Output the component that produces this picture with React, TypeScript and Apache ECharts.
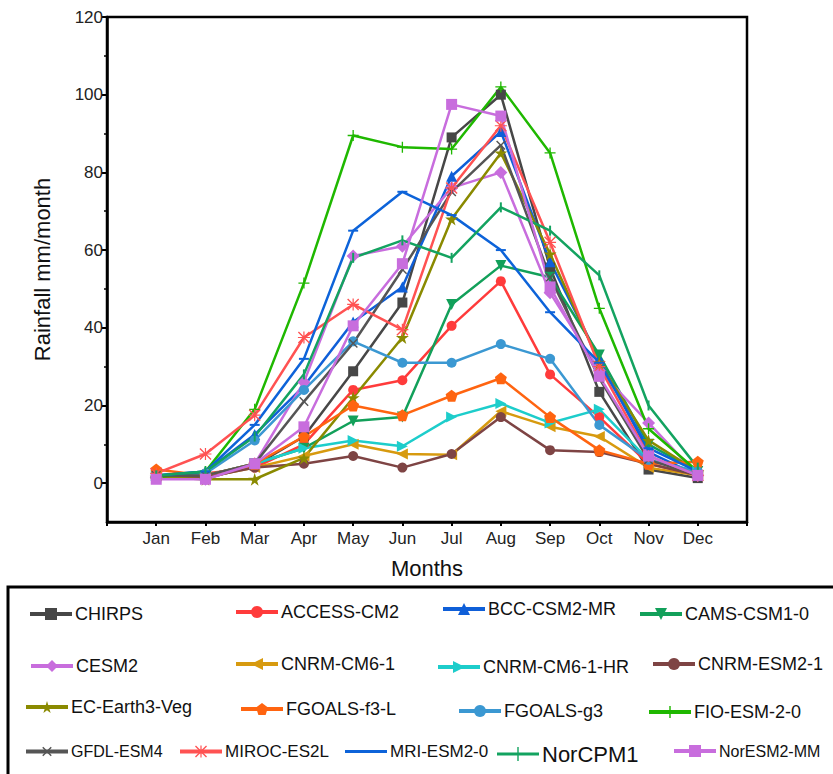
import React, { useEffect, useRef } from 'react';
import * as echarts from 'echarts';

const months = ['Jan', 'Feb', 'Mar', 'Apr', 'May', 'Jun', 'Jul', 'Aug', 'Sep', 'Oct', 'Nov', 'Dec'];
const yTickValues = [0, 20, 40, 60, 80, 100, 120];
const yMinorTickValues = [10, 30, 50, 70, 90, 110];

const chirps = [1.5, 1.2, 4.5, 12, 28.8, 46.5, 89, 100, 55.5, 23.5, 3.5, 1.3];
const accessCm2 = [2, 2.5, 4, 10, 24, 26.5, 40.5, 52, 28, 17, 5, 2];
const bccCsm2Mr = [2, 3, 12.5, 25, 41.5, 50.5, 79, 90.5, 57, 32, 8, 2];
const camsCsm10 = [2, 2, 5, 9, 16, 17, 46, 56, 53, 33, 10, 3];
const cesm2 = [1.5, 1, 5, 26, 58.5, 61, 76, 80, 49, 29, 15.5, 2];
const cnrmCm61 = [2, 1.5, 4, 7, 10, 7.5, 7.3, 18.5, 14.5, 12, 4, 2];
const cnrmCm61Hr = [2, 2, 5, 9, 11, 9.5, 17, 20.5, 15.5, 19, 6, 3];
const cnrmEsm21 = [1.5, 1.5, 4, 5, 7, 4, 7.5, 17, 8.5, 8, 5, 2];
const ecEarth3Veg = [1.5, 1, 1, 6.5, 22, 37.5, 68, 85, 59, 31, 11, 3];
const fgoalsF3L = [3.5, 2, 5, 12, 20, 17.5, 22.5, 27, 17, 8.5, 5, 5.5];
const fgoalsG3 = [2, 2.5, 11, 24, 36.5, 31, 31, 35.8, 32, 15, 6, 3];
const fioEsm20 = [1.5, 3, 19, 51.5, 89.5, 86.5, 86, 102, 85, 45, 14, 3];
const gfdlEsm4 = [2, 2, 5, 21, 36, 55, 75, 87, 53, 27, 6, 2];
const mirocEs2l = [2.5, 7.5, 17.5, 37.5, 46, 39.5, 76, 92, 62, 30, 7, 2];
const mriEsm20 = [2, 3, 15, 32, 65, 75, 69, 60, 44, 31, 9, 3];
const norCpm1 = [2, 3, 12, 28, 58, 62.5, 58, 71, 65, 53.5, 20, 4];
const norEsm2Mm = [1, 1, 5, 14.5, 40.5, 56.5, 97.5, 94.5, 50.5, 27.5, 7, 2];

const seriesNames = [
  'CHIRPS', 'ACCESS-CM2', 'BCC-CSM2-MR', 'CAMS-CSM1-0',
  'CESM2', 'CNRM-CM6-1', 'CNRM-CM6-1-HR', 'CNRM-ESM2-1',
  'EC-Earth3-Veg', 'FGOALS-f3-L', 'FGOALS-g3', 'FIO-ESM-2-0',
  'GFDL-ESM4', 'MIROC-ES2L', 'MRI-ESM2-0', 'NorCPM1', 'NorESM2-MM',
];
const seriesValues = [
  chirps, accessCm2, bccCsm2Mr, camsCsm10,
  cesm2, cnrmCm61, cnrmCm61Hr, cnrmEsm21,
  ecEarth3Veg, fgoalsF3L, fgoalsG3, fioEsm20,
  gfdlEsm4, mirocEs2l, mriEsm20, norCpm1, norEsm2Mm,
];

const STAR = 'path://M50,0 L61,35 L98,35 L68,57 L79,91 L50,70 L21,91 L32,57 L2,35 L39,35 Z';
const PENTA = 'path://M50,0 L98,35 L79,91 L21,91 L2,35 Z';
const PLUS = 'path://M44,0 L56,0 L56,44 L100,44 L100,56 L56,56 L56,100 L44,100 L44,56 L0,56 L0,44 L44,44 Z';
const ASTER = 'path://M45,0 L55,0 L55,100 L45,100 Z M0,45 L100,45 L100,55 L0,55 Z M8,0 L100,92 L92,100 L0,8 Z M92,0 L100,8 L8,100 L0,92 Z';
const LEG_BAR = 'path://M0,40 L300,40 L300,60 L0,60 Z';
const LEG_BAR_V = 'path://M0,40 L300,40 L300,60 L0,60 Z M145,0 L155,0 L155,100 L145,100 Z';

const styles: any[] = [
  { color: '#474747', symbol: 'rect', size: 10 },
  { color: '#FF3B3B', symbol: 'circle', size: 10 },
  { color: '#0F5FD8', symbol: 'triangle', size: 11 },
  { color: '#12A05A', symbol: 'triangle', size: 11, rot: 180 },
  { color: '#C86DDD', symbol: 'diamond', size: 13 },
  { color: '#D79A0F', symbol: 'triangle', size: 11, rot: 90 },
  { color: '#1DCDCB', symbol: 'triangle', size: 11, rot: -90 },
  { color: '#7E4444', symbol: 'circle', size: 10 },
  { color: '#8A8A00', symbol: STAR, size: 13 },
  { color: '#FF6410', symbol: PENTA, size: 12 },
  { color: '#3B98D2', symbol: 'circle', size: 10 },
  { color: '#1FB800', symbol: PLUS, size: 11 },
  { color: '#555555', symbol: PLUS, size: 12, rot: 45 },
  { color: '#FF5252', symbol: ASTER, size: 12 },
  { color: '#0D63D9', symbol: 'rect', size: [10, 2], legendIcon: LEG_BAR },
  { color: '#13A360', symbol: 'rect', size: [2, 10], legendIcon: LEG_BAR_V },
  { color: '#C86DDD', symbol: 'rect', size: 11 },
];

const legendLayout = [
  { x: 28, y: 615, fs: 18 }, { x: 234, y: 613, fs: 18 }, { x: 441, y: 610, fs: 18 }, { x: 638, y: 615, fs: 18 },
  { x: 29, y: 667, fs: 18 }, { x: 234, y: 665, fs: 18 }, { x: 436, y: 668, fs: 18 }, { x: 651, y: 665, fs: 18 },
  { x: 24, y: 708, fs: 18 }, { x: 239, y: 710, fs: 18 }, { x: 457, y: 712, fs: 18 }, { x: 647, y: 713, fs: 18 },
  { x: 24, y: 753, fs: 16 }, { x: 178, y: 753, fs: 17 }, { x: 345, y: 753, fs: 17 }, { x: 497, y: 753, fs: 22 }, { x: 672, y: 753, fs: 16 },
];

const FONT = 'Liberation Sans, Arial, Helvetica, sans-serif';

export default function App() {
  const ref = useRef<HTMLDivElement>(null);
  useEffect(() => {
    const chart = echarts.init(ref.current as HTMLDivElement, null, { renderer: 'svg' });
    const series = seriesNames.map((name, i) => {
      const s = styles[i];
      return {
        type: 'line',
        name,
        data: seriesValues[i].map((v, k) => [k + 1, v]),
        symbol: s.symbol,
        symbolSize: s.size,
        symbolRotate: s.rot || 0,
        showAllSymbol: true,
        itemStyle: { color: s.color },
        lineStyle: { color: s.color, width: 2.5 },
        emphasis: { disabled: true },
      };
    });
    const legend = seriesNames.map((name, i) => {
      const s = styles[i];
      return {
        data: [s.legendIcon ? { name, icon: s.legendIcon } : name],
        left: legendLayout[i].x,
        top: legendLayout[i].y - 10,
        itemWidth: 42,
        itemHeight: s.legendIcon ? 14 : 15,
        padding: 0,
        selectedMode: false,
        lineStyle: { width: 4 },
        textStyle: { fontSize: legendLayout[i].fs, color: '#111', fontFamily: FONT, padding: [0, 0, 0, -2] },
      };
    });
    chart.setOption({
      animation: false,
      backgroundColor: '#fff',
      textStyle: { fontFamily: FONT },
      grid: { left: 107, right: 86, top: 17, bottom: 252, show: true, borderColor: '#000', borderWidth: 2.5 },
      xAxis: {
        type: 'value',
        min: 0,
        max: 13,
        interval: 1,
        name: 'Months',
        nameLocation: 'middle',
        nameGap: 35,
        nameTextStyle: { fontSize: 22, color: '#111', fontFamily: FONT },
        axisLine: { onZero: false, lineStyle: { color: '#000', width: 2.5 } },
        axisTick: { show: true, length: 4, lineStyle: { color: '#000', width: 2 } },
        axisLabel: {
          fontSize: 17,
          color: '#222',
          margin: 8,
          formatter: (v: number) => (v >= 1 && v <= 12 ? months[v - 1] : ''),
        },
        splitLine: { show: false },
      },
      yAxis: [
        {
          type: 'value',
          min: -10,
          max: 120,
          name: 'Rainfall mm/month',
          nameLocation: 'middle',
          nameGap: 54,
          nameRotate: 90,
          nameTextStyle: { fontSize: 22, color: '#111', fontFamily: FONT },
          axisLine: { lineStyle: { color: '#000', width: 2.5 } },
          axisTick: { show: true, length: 5, customValues: yTickValues, lineStyle: { color: '#000', width: 2 } },
          axisLabel: { fontSize: 17, color: '#222', margin: 4, customValues: yTickValues },
          splitLine: { show: false },
        },
        {
          type: 'value',
          min: -10,
          max: 120,
          position: 'left',
          axisLine: { show: false },
          axisTick: { show: true, length: 3, customValues: yMinorTickValues, lineStyle: { color: '#000', width: 1.5 } },
          axisLabel: { show: false },
          splitLine: { show: false },
        },
      ],
      legend,
      graphic: [
        {
          type: 'rect',
          shape: { x: 8, y: 587, width: 840, height: 200 },
          style: { fill: 'none', stroke: '#000', lineWidth: 3 },
          silent: true,
        },
      ],
      series,
    });
    return () => chart.dispose();
  }, []);
  return <div ref={ref} style={{ position: 'fixed', left: 0, top: 0, width: 833, height: 774 }} />;
}
